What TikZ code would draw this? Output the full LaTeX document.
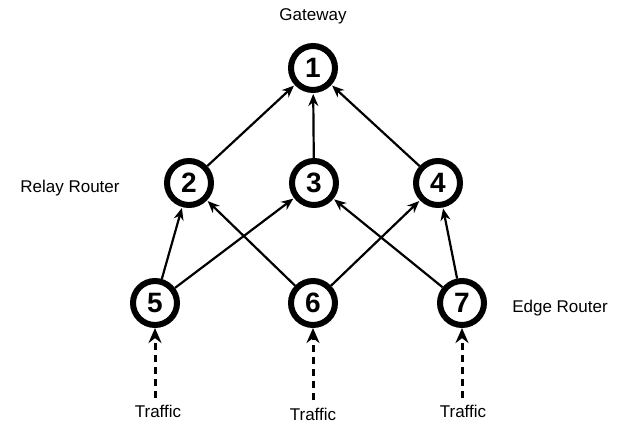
\documentclass[tikz,border=0pt]{standalone}
\usepackage{fontspec}
\setmainfont{Liberation Sans}
\usetikzlibrary{arrows.meta}
\begin{document}
\begin{tikzpicture}[x=1pt,y=-1pt,
  router/.style={circle,draw=black,line width=6pt,minimum size=44pt,inner sep=0pt,font=\fontsize{28}{28}\selectfont\bfseries},
  lbl/.style={font=\fontsize{17}{17}\selectfont},
  link/.style={line width=2.2pt,-{Stealth[length=12pt,width=10pt]},shorten >=1pt},
  feed/.style={line width=3pt,dash pattern=on 7pt off 5pt,-{Stealth[length=15pt,width=13pt]}}]
\useasboundingbox (0,0) rectangle (636,426);
\node[router] (n1) at (313,68) {1};
\node[router] (n2) at (189,183) {2};
\node[router] (n3) at (314,183) {3};
\node[router] (n4) at (438,183) {4};
\node[router] (n5) at (155,303) {5};
\node[router] (n6) at (313,303) {6};
\node[router] (n7) at (462,303) {7};
\node[lbl] (gw) at (313,16) {Gateway};
\node[lbl] (rr) at (70,188) {Relay Router};
\node[lbl] (er) at (560,308) {Edge Router};
\node[lbl] (t5) at (158,411) {Traffic};
\node[lbl] (t6) at (313,414) {Traffic};
\node[lbl] (t7) at (463,411) {Traffic};
\coordinate (s5) at (155,398);
\coordinate (s6) at (313,400);
\coordinate (s7) at (462,398);
\draw[link] (n2) -- (n1);
\draw[link] (n3) -- (n1);
\draw[link] (n4) -- (n1);
\draw[link] (n5) -- (n2);
\draw[link] (n5) -- (n3);
\draw[link] (n6) -- (n2);
\draw[link] (n6) -- (n4);
\draw[link] (n7) -- (n3);
\draw[link] (n7) -- (n4);
\draw[feed] (s5) -- (n5);
\draw[feed] (s6) -- (n6);
\draw[feed] (s7) -- (n7);
\end{tikzpicture}
\end{document}
